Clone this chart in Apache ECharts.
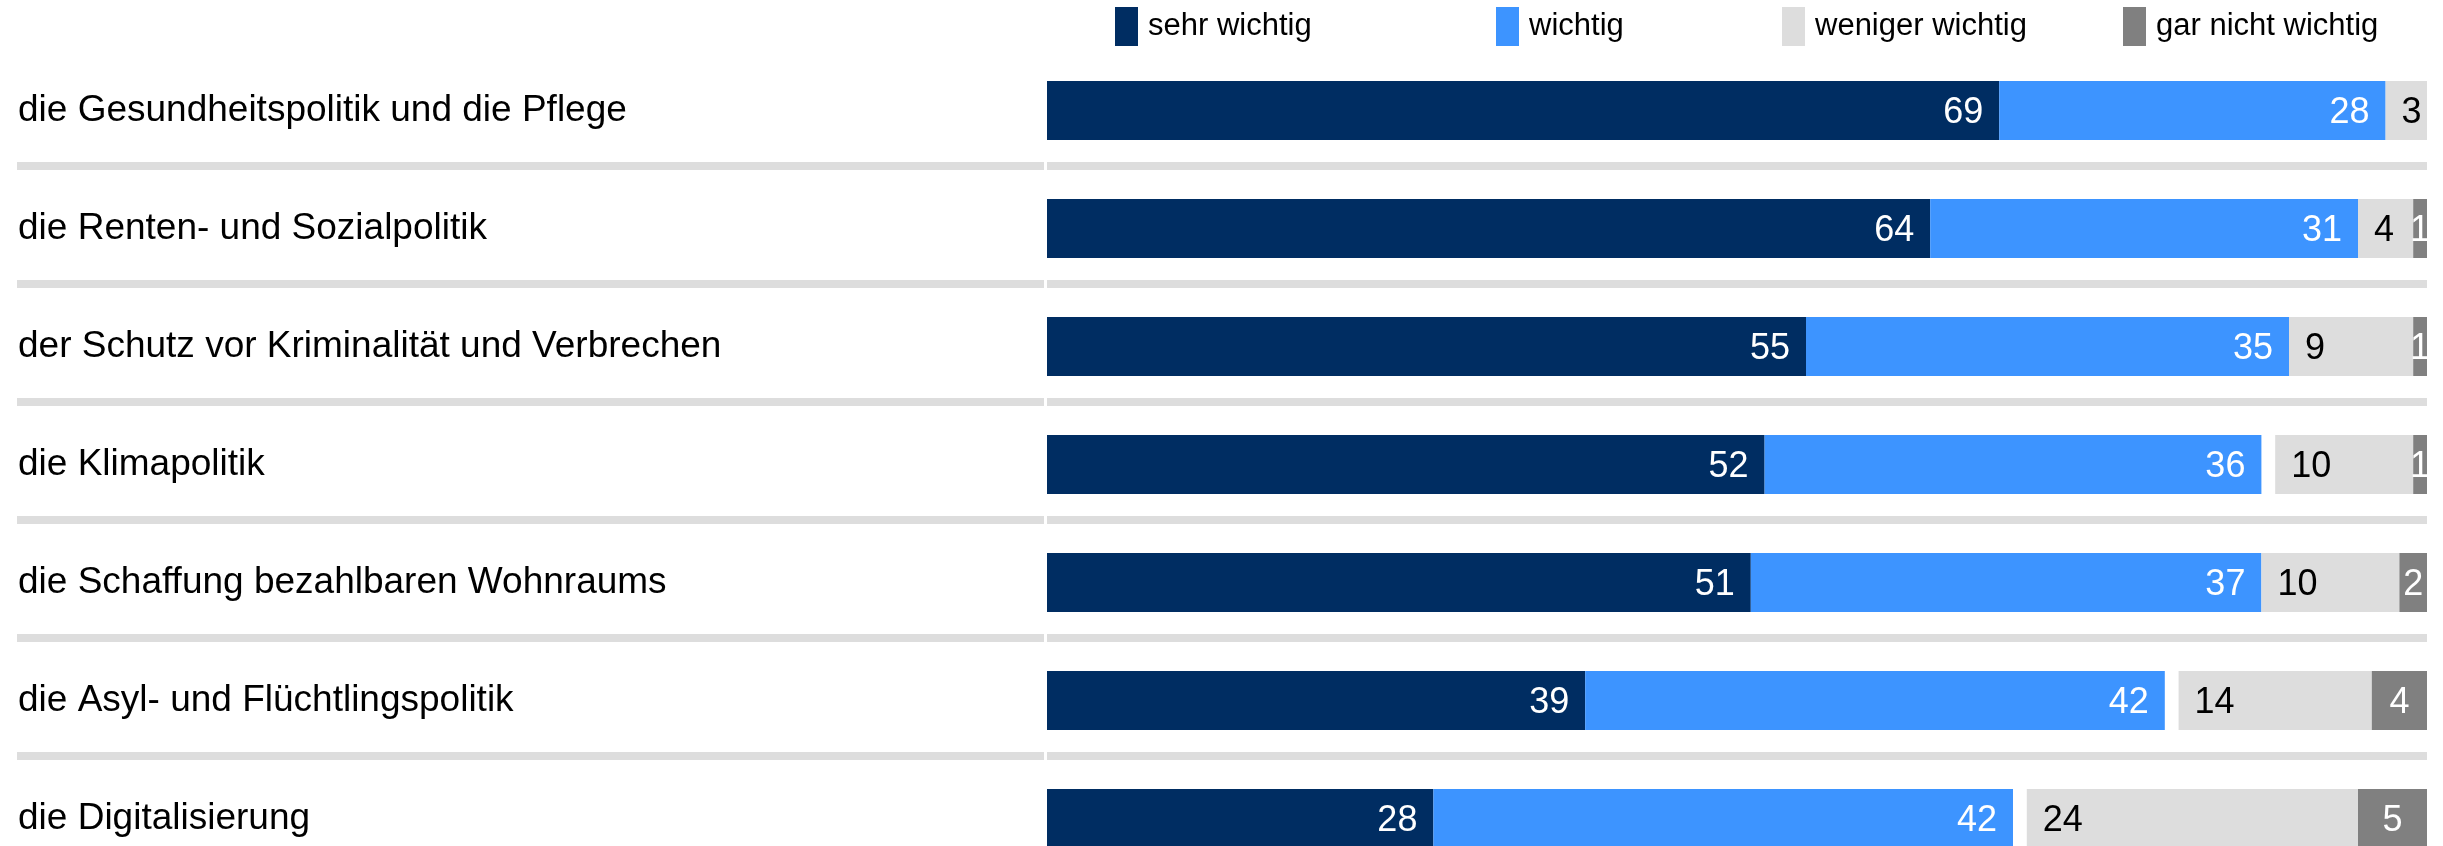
<!DOCTYPE html>
<html>
<head>
<meta charset="utf-8">
<script src="https://cdn.jsdelivr.net/npm/echarts@6/dist/echarts.min.js"></script>
<style>
html,body{margin:0;padding:0;background:#fff;}
#chart{width:2443px;height:846px;}
</style>
</head>
<body>
<div id="chart"></div>
<script>
const categories = [
  'die Gesundheitspolitik und die Pflege',
  'die Renten- und Sozialpolitik',
  'der Schutz vor Kriminalität und Verbrechen',
  'die Klimapolitik',
  'die Schaffung bezahlbaren Wohnraums',
  'die Asyl- und Flüchtlingspolitik',
  'die Digitalisierung'
];
const seriesNames = ['sehr wichtig', 'wichtig', 'weniger wichtig', 'gar nicht wichtig'];
const sehrWichtig = [69, 64, 55, 52, 51, 39, 28];
const wichtig = [28, 31, 35, 36, 37, 42, 42];
const keineAngabe = [0, 0, 0, 1, 0, 1, 1];
const wenigerWichtig = [3, 4, 9, 10, 10, 14, 24];
const garNichtWichtig = [0, 1, 1, 1, 2, 4, 5];

const FONT = 'Liberation Sans, Arial, Helvetica, sans-serif';
const colors = ['#002d62', '#3d94ff', '#dddddd', '#808080'];
const legendLefts = [1115, 1496, 1782, 2123];

const chart = echarts.init(document.getElementById('chart'), null, {renderer: 'canvas'});

const fmt = p => (p.value ? String(p.value) : '');
function lab(pos, color, dist) {
  return {show: true, position: pos, distance: dist, color: color, fontSize: 36,
          fontFamily: FONT, formatter: fmt, offset: [0, 3]};
}

const option = {
  animation: false,
  backgroundColor: '#ffffff',
  textStyle: {fontFamily: FONT},
  legend: seriesNames.map((n, i) => ({
    data: [n], left: legendLefts[i], top: 7, padding: 0,
    icon: 'rect', itemWidth: 23, itemHeight: 39, itemGap: 0,
    selectedMode: false,
    textStyle: {fontSize: 31, color: '#000', fontFamily: FONT, padding: [4, 0, 0, 5]}
  })),
  grid: [
    {left: 1047, width: 1380, top: 51.5, height: 826, containLabel: false, outerBoundsMode: 'none'},
    {left: 17, width: 1027, top: 166, height: 708, containLabel: false, outerBoundsMode: 'none'},
    {left: 1047, width: 1380, top: 166, height: 708, containLabel: false, outerBoundsMode: 'none'}
  ],
  xAxis: [
    {gridIndex: 0, type: 'value', min: 0, max: 100, show: false},
    {gridIndex: 1, type: 'value', min: 0, max: 1, show: false},
    {gridIndex: 2, type: 'value', min: 0, max: 1, show: false}
  ],
  yAxis: [
    {gridIndex: 0, type: 'category', data: categories, inverse: true,
     axisLine: {show: false}, axisTick: {show: false}, splitLine: {show: false},
     axisLabel: {align: 'left', margin: 1029, fontSize: 37, color: '#000', fontFamily: FONT,
                 padding: [6, 0, 0, 0]}},
    {gridIndex: 1, type: 'value', min: 0, max: 6, interval: 1, inverse: true,
     axisLine: {show: false}, axisTick: {show: false}, axisLabel: {show: false},
     splitLine: {show: true, lineStyle: {color: '#dddddd', width: 8}}},
    {gridIndex: 2, type: 'value', min: 0, max: 6, interval: 1, inverse: true,
     axisLine: {show: false}, axisTick: {show: false}, axisLabel: {show: false},
     splitLine: {show: true, lineStyle: {color: '#dddddd', width: 8}}}
  ],
  series: [
    {name: seriesNames[0], type: 'bar', stack: 't', barWidth: 59, data: sehrWichtig,
     itemStyle: {color: colors[0]}, label: lab('insideRight', '#fff', 16)},
    {name: seriesNames[1], type: 'bar', stack: 't', barWidth: 59, data: wichtig,
     itemStyle: {color: colors[1]}, label: lab('insideRight', '#fff', 16)},
    {name: 'keine Angabe', type: 'bar', stack: 't', barWidth: 59, data: keineAngabe,
     itemStyle: {color: 'rgba(0,0,0,0)'}, label: {show: false}, silent: true},
    {name: seriesNames[2], type: 'bar', stack: 't', barWidth: 59, data: wenigerWichtig,
     itemStyle: {color: colors[2]}, label: lab('insideLeft', '#000', 16)},
    {name: seriesNames[3], type: 'bar', stack: 't', barWidth: 59, data: garNichtWichtig,
     itemStyle: {color: colors[3]}, label: lab('inside', '#fff', 0)}
  ]
};
chart.setOption(option);
</script>
</body>
</html>
